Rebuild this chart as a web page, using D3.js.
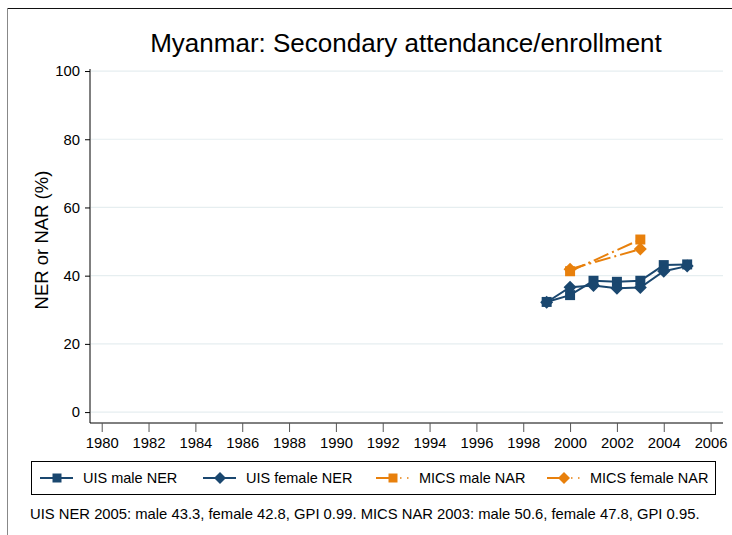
<!DOCTYPE html>
<html>
<head>
<meta charset="utf-8">
<script src="https://cdn.jsdelivr.net/npm/d3@7"></script>
<style>
  body { margin: 0; background: #fff; }
  text { font-family: "Liberation Sans", Arial, sans-serif; }
</style>
</head>
<body>
<svg id="chart" width="732" height="535"></svg>
<script>
const years = [1999, 2000, 2001, 2002, 2003, 2004, 2005];
const uisMale = [32.3, 34.3, 38.5, 38.2, 38.5, 43.1, 43.3];
const uisFemale = [32.2, 36.6, 37.1, 36.3, 36.5, 41.3, 42.8];
const micsYears = [2000, 2003];
const micsMale = [41.3, 50.6];
const micsFemale = [41.9, 47.8];
const xTicks = d3.range(1980, 2007, 2);
const yTicks = [0, 20, 40, 60, 80, 100];

const navy = "#1a476f";
const orange = "#e8800c";
const font = "Liberation Sans, Arial, sans-serif";

const svg = d3.select("#chart");
const width = 732, height = 535;
const plot = { left: 90, right: 723, top: 69, bottom: 423 };

// outer frame
svg.append("line").attr("x1", 7).attr("x2", width).attr("y1", 8.5).attr("y2", 8.5)
  .attr("stroke", "#111").attr("stroke-width", 1);
svg.append("line").attr("x1", 7.5).attr("x2", 7.5).attr("y1", 8).attr("y2", height)
  .attr("stroke", "#888").attr("stroke-width", 1);

const x = d3.scaleLinear([1979.5, 2006.53], [plot.left, plot.right]);
const y = d3.scaleLinear([-3.2, 100.6], [plot.bottom, plot.top]);

// gridlines
svg.append("g").selectAll("line").data(yTicks).join("line")
  .attr("x1", plot.left + 1).attr("x2", plot.right)
  .attr("y1", d => y(d)).attr("y2", d => y(d))
  .attr("stroke", "#e6eef0").attr("stroke-width", 1.2);

// axes
const yAxis = svg.append("g").attr("transform", `translate(${plot.left},0)`)
  .call(d3.axisLeft(y).tickValues(yTicks).tickSize(5).tickPadding(5).tickFormat(d3.format("d")));
yAxis.select(".domain").attr("d", `M0,${plot.top}V${plot.bottom}`).attr("stroke", "#000");
yAxis.selectAll("text").attr("font-size", 14.8).attr("fill", "#000").attr("font-family", font);

const xAxis = svg.append("g").attr("transform", `translate(0,${plot.bottom})`)
  .call(d3.axisBottom(x).tickValues(xTicks).tickSize(9).tickPadding(5).tickFormat(d3.format("d")));
xAxis.select(".domain").attr("d", `M${plot.left},0H${plot.right}`).attr("stroke", "#000");
xAxis.selectAll(".tick line").attr("stroke", "#555");
xAxis.selectAll("text").attr("font-size", 14.8).attr("fill", "#000").attr("font-family", font);

// title & labels
svg.append("text").attr("x", 406).attr("y", 52).attr("text-anchor", "middle")
  .attr("font-size", 26).attr("fill", "#000")
  .text("Myanmar: Secondary attendance/enrollment");

svg.append("text").attr("transform", `translate(48,240) rotate(-90)`)
  .attr("text-anchor", "middle").attr("font-size", 18.5).attr("fill", "#000")
  .text("NER or NAR (%)");

const square = s => `M${-s / 2},${-s / 2}h${s}v${s}h${-s}Z`;
const diamond = s => `M0,${-s / 2}L${s / 2},0L0,${s / 2}L${-s / 2},0Z`;

const series = [
  { name: "UIS male NER", xs: years, ys: uisMale, color: navy, dash: null, sym: square, size: 10 },
  { name: "UIS female NER", xs: years, ys: uisFemale, color: navy, dash: null, sym: diamond, size: 13 },
  { name: "MICS male NAR", xs: micsYears, ys: micsMale, color: orange, dash: "16,4,2,4", sym: square, size: 10 },
  { name: "MICS female NAR", xs: micsYears, ys: micsFemale, color: orange, dash: "16,4,2,4", sym: diamond, size: 13 }
];

const line = d3.line().x(d => x(d[0])).y(d => y(d[1]));

series.forEach(s => {
  const pts = s.xs.map((v, i) => [v, s.ys[i]]);
  svg.append("path").attr("d", line(pts)).attr("fill", "none")
    .attr("stroke", s.color).attr("stroke-width", 2)
    .attr("stroke-dasharray", s.dash);
  svg.append("g").selectAll("path").data(pts).join("path")
    .attr("d", s.sym(s.size))
    .attr("transform", d => `translate(${x(d[0])},${y(d[1])})`)
    .attr("fill", s.color);
});

// legend
svg.append("rect").attr("x", 31.5).attr("y", 461.5).attr("width", 684).attr("height", 33)
  .attr("fill", "none").attr("stroke", "#000");

const legendX = [40, 203, 376, 547];
series.forEach((s, i) => {
  const g = svg.append("g").attr("transform", `translate(${legendX[i]},478)`);
  if (s.dash) {
    g.append("line").attr("x1", 0).attr("x2", 17).attr("y1", 0).attr("y2", 0)
      .attr("stroke", s.color).attr("stroke-width", 2);
    g.append("line").attr("x1", 24).attr("x2", 36).attr("y1", 0).attr("y2", 0)
      .attr("stroke", s.color).attr("stroke-width", 1.5).attr("stroke-dasharray", "1.5,5.5");
  } else {
    g.append("line").attr("x1", 0).attr("x2", 33).attr("y1", 0).attr("y2", 0)
      .attr("stroke", s.color).attr("stroke-width", 2);
  }
  g.append("path").attr("d", s.sym(s.size - 1)).attr("transform", "translate(17,0)").attr("fill", s.color);
  g.append("text").attr("x", 43).attr("y", 5).attr("font-size", 14.5)
    .attr("fill", "#000").text(s.name);
});

svg.append("text").attr("x", 30).attr("y", 519).attr("font-size", 14.8).attr("fill", "#000")
  .text("UIS NER 2005: male 43.3, female 42.8, GPI 0.99. MICS NAR 2003: male 50.6, female 47.8, GPI 0.95.");
</script>
</body>
</html>
